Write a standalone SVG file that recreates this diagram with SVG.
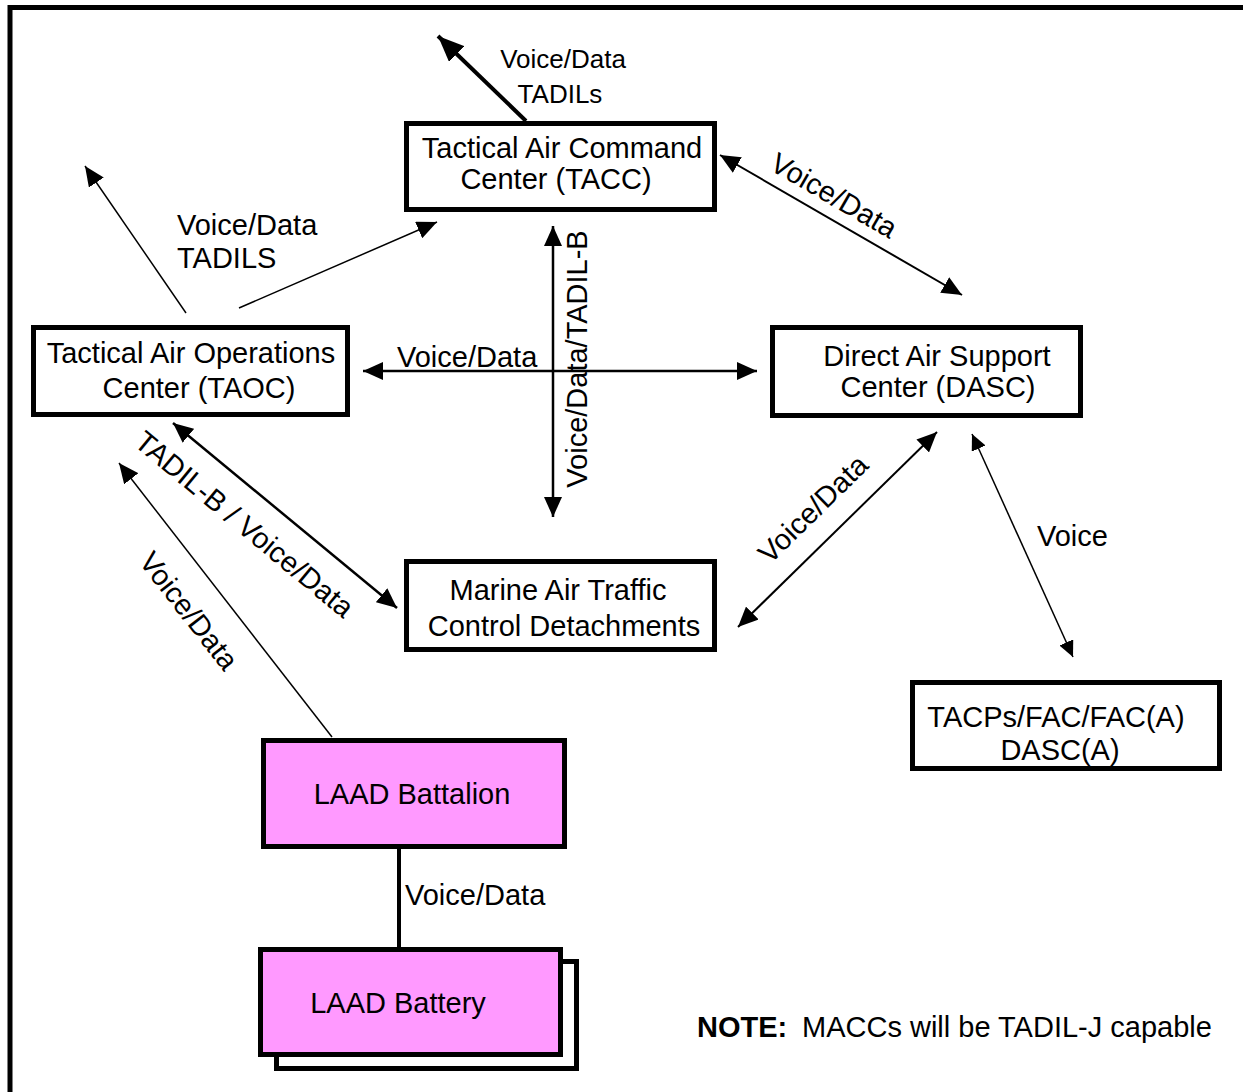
<svg xmlns="http://www.w3.org/2000/svg" width="1243" height="1092" viewBox="0 0 1243 1092">
  <style>
    text { font-family: "Liberation Sans", Arial, sans-serif; font-size: 29px; fill: #000; }
    .mid { text-anchor: middle; }
    .sm { font-size: 26px; }
    .box { fill: #fff; stroke: #000; stroke-width: 5; }
    .laad { fill: #ff99ff; stroke: #000; stroke-width: 5; }
    .ln { fill: none; stroke: #000; stroke-width: 2; }
    .thin { stroke-width: 1.5; }
    .med { stroke-width: 2.5; }
    .bold { font-weight: bold; }
  </style>
  <defs>
    <marker id="ah" viewBox="0 0 20 18" refX="20" refY="9" markerWidth="20" markerHeight="18" markerUnits="userSpaceOnUse" orient="auto-start-reverse">
      <path d="M0,0 L20,9 L0,18 z" fill="#000"/>
    </marker>
    <marker id="ahs" viewBox="0 0 16 15" refX="16" refY="7.5" markerWidth="16" markerHeight="15" markerUnits="userSpaceOnUse" orient="auto-start-reverse">
      <path d="M0,0 L16,7.5 L0,15 z" fill="#000"/>
    </marker>
    <marker id="ahl" viewBox="0 0 26 22" refX="26" refY="11" markerWidth="26" markerHeight="22" markerUnits="userSpaceOnUse" orient="auto-start-reverse">
      <path d="M0,0 L26,11 L0,22 z" fill="#000"/>
    </marker>
  </defs>

  <rect width="1243" height="1092" fill="#fff"/>
  <!-- page frame (top and left edges) -->
  <path d="M10,1092 V7.5 H1243" fill="none" stroke="#000" stroke-width="5"/>

  <g id="connectors">
    <line class="ln" x1="526" y1="121" x2="438" y2="36" style="stroke-width:4" marker-end="url(#ahl)"/>
    <line class="ln thin" x1="186" y1="313" x2="85" y2="166" marker-end="url(#ah)"/>
    <line class="ln thin" x1="239" y1="308" x2="437" y2="222" marker-end="url(#ah)"/>
    <line class="ln" x1="720" y1="155" x2="962" y2="295" marker-start="url(#ah)" marker-end="url(#ah)"/>
    <line class="ln med" x1="363" y1="371" x2="757" y2="371" marker-start="url(#ah)" marker-end="url(#ah)"/>
    <line class="ln med" x1="553" y1="226" x2="553" y2="517" marker-start="url(#ah)" marker-end="url(#ah)"/>
    <line class="ln med" x1="173" y1="423" x2="397" y2="608" marker-start="url(#ah)" marker-end="url(#ah)"/>
    <line class="ln" x1="738" y1="627" x2="937" y2="432" marker-start="url(#ah)" marker-end="url(#ah)"/>
    <line class="ln thin" x1="972" y1="434" x2="1073" y2="657" marker-start="url(#ahs)" marker-end="url(#ahs)"/>
    <line class="ln thin" x1="332" y1="737" x2="119" y2="463" marker-end="url(#ah)"/>
    <line class="ln" x1="399" y1="849" x2="399" y2="947" style="stroke-width:4"/>

    <!-- connector labels -->
    <text class="mid sm" x="563" y="68">Voice/Data</text>
    <text class="mid sm" x="560" y="103">TADILs</text>
    <text x="177" y="235">Voice/Data</text>
    <text x="177" y="268">TADILS</text>
    <text x="397" y="367">Voice/Data</text>
    <text class="mid" transform="translate(587,359) rotate(-90)">Voice/Data/TADIL-B</text>
    <text class="mid" transform="translate(829,204) rotate(30)">Voice/Data</text>
    <text class="mid" transform="translate(238,532) rotate(39.6)">TADIL-B / Voice/Data</text>
    <text class="mid" transform="translate(181,617) rotate(52.1)">Voice/Data</text>
    <text class="mid" transform="translate(820,516) rotate(-44.4)">Voice/Data</text>
    <text x="1037" y="546">Voice</text>
    <text x="405" y="905">Voice/Data</text>
  </g>

  <g id="tacc">
    <rect class="box" x="406.5" y="123.5" width="308" height="86"/>
    <text class="mid" x="562" y="158">Tactical Air Command</text>
    <text class="mid" x="556" y="189">Center (TACC)</text>
  </g>

  <g id="taoc">
    <rect class="box" x="33.5" y="327.5" width="314" height="87"/>
    <text class="mid" x="191" y="363">Tactical Air Operations</text>
    <text class="mid" x="199" y="398">Center (TAOC)</text>
  </g>

  <g id="dasc">
    <rect class="box" x="772.5" y="327.5" width="308" height="88"/>
    <text class="mid" x="937" y="366">Direct Air Support</text>
    <text class="mid" x="938" y="397">Center (DASC)</text>
  </g>

  <g id="matcd">
    <rect class="box" x="406.5" y="561.5" width="308" height="88"/>
    <text class="mid" x="558" y="600">Marine Air Traffic</text>
    <text class="mid" x="564" y="636">Control Detachments</text>
  </g>

  <g id="tacps">
    <rect class="box" x="912.5" y="682.5" width="307" height="86"/>
    <text class="mid" x="1056" y="727">TACPs/FAC/FAC(A)</text>
    <text class="mid" x="1060" y="760">DASC(A)</text>
  </g>

  <g id="laad-battalion">
    <rect class="laad" x="263.5" y="740.5" width="301" height="106"/>
    <text class="mid" x="412" y="804">LAAD Battalion</text>
  </g>

  <g id="laad-battery">
    <rect class="box" x="276.5" y="961.5" width="300" height="107"/>
    <rect class="laad" x="260.5" y="949.5" width="300" height="105"/>
    <text class="mid" x="398" y="1013">LAAD Battery</text>
  </g>

  <g id="note">
    <text class="bold" x="697" y="1037">NOTE:</text>
    <text x="802" y="1037">MACCs will be TADIL-J capable</text>
  </g>
</svg>
